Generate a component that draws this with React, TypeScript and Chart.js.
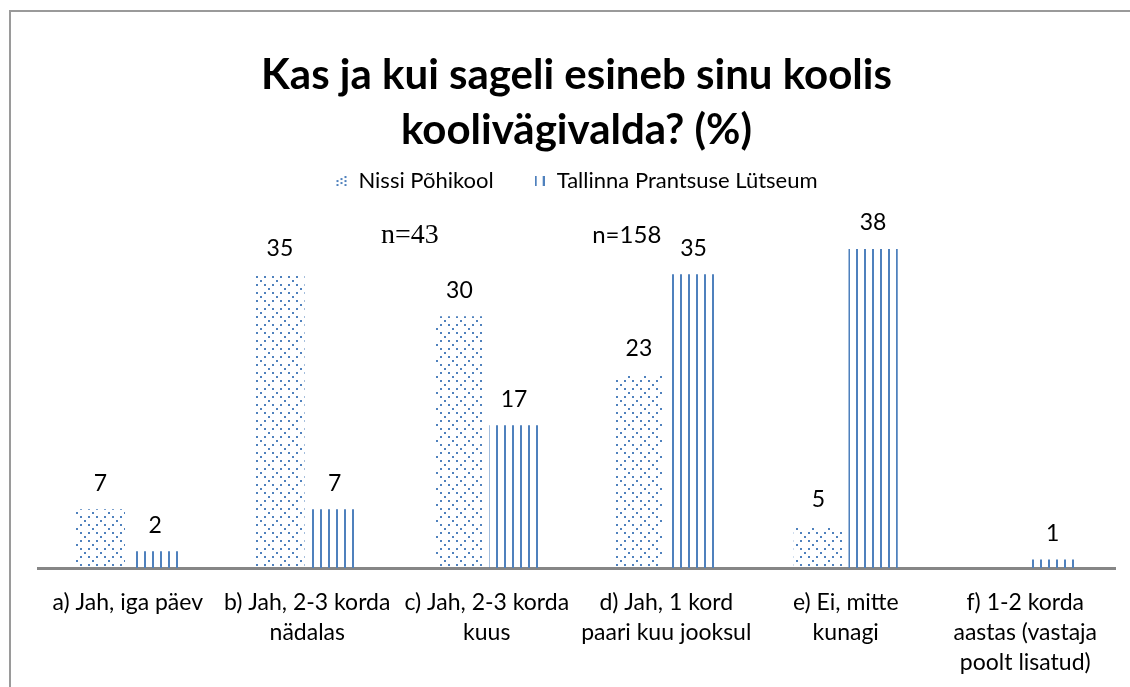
import React, { useEffect, useRef } from "react";
import { Chart, registerables } from "chart.js";

Chart.register(...registerables);

const categories: string[][] = [
  ["a) Jah, iga päev"],
  ["b) Jah, 2-3 korda", "nädalas"],
  ["c) Jah, 2-3 korda", "kuus"],
  ["d) Jah, 1 kord", "paari kuu jooksul"],
  ["e) Ei, mitte", "kunagi"],
  ["f) 1-2 korda", "aastas (vastaja", "poolt lisatud)"],
];
const nissiValues: number[] = [7, 35, 30, 23, 5, 0];
const tallinnValues: number[] = [2, 7, 17, 35, 38, 1];
const seriesNames: string[] = ["Nissi Põhikool", "Tallinna Prantsuse Lütseum"];
const titleLines: string[] = ["Kas ja kui sageli esineb sinu koolis", "koolivägivalda? (%)"];
const notes = [
  { text: "n=43", x: 1.572, y: 39.6, serif: true },
  { text: "n=158", x: 2.78, y: 39.6, serif: false },
];

const BLUE = "#4F81BD";

function dotCanvas(w: number, h: number): HTMLCanvasElement {
  const c = document.createElement("canvas");
  c.width = w;
  c.height = h;
  const ctx = c.getContext("2d");
  if (ctx) {
    ctx.fillStyle = BLUE;
    const dots: [number, number][] = [
      [12, 0], [0, 4], [8, 4], [4, 8], [0, 12], [8, 12],
    ];
    for (let oy = 0; oy < h; oy += 16) {
      for (let ox = 0; ox < w; ox += 16) {
        dots.forEach(([x, y]) => ctx.fillRect(ox + x, oy + y, 2, 2));
      }
    }
  }
  return c;
}

function lineCanvas(w: number, h: number): HTMLCanvasElement {
  const c = document.createElement("canvas");
  c.width = w;
  c.height = h;
  const ctx = c.getContext("2d");
  if (ctx) {
    ctx.fillStyle = BLUE;
    for (let x = 0; x < w; x += 8) ctx.fillRect(x, 0, 2, h);
  }
  return c;
}

function makePattern(c: HTMLCanvasElement): CanvasPattern | string {
  const ctx = c.getContext("2d");
  return (ctx && ctx.createPattern(c, "repeat")) || BLUE;
}

function legendDots(): HTMLCanvasElement {
  const c = document.createElement("canvas");
  c.width = 12;
  c.height = 10;
  const ctx = c.getContext("2d");
  if (ctx) {
    ctx.fillStyle = BLUE;
    const d: [number, number][] = [[9, 0], [5, 2], [9, 4], [1, 4], [5, 6], [1, 8], [9, 8]];
    d.forEach(([x, y]) => ctx.fillRect(x, y, 2, 2));
  }
  return c;
}

function legendLines(): HTMLCanvasElement {
  const c = document.createElement("canvas");
  c.width = 10;
  c.height = 10;
  const ctx = c.getContext("2d");
  if (ctx) {
    ctx.fillStyle = BLUE;
    ctx.fillRect(0, 0, 2, 10);
    ctx.fillRect(8, 0, 2, 10);
  }
  return c;
}

const labelsPlugin = {
  id: "barLabels",
  afterDatasetsDraw(chart: any) {
    const ctx = chart.ctx;
    ctx.save();
    ctx.fillStyle = "#000";
    ctx.font = "23px Lato";
    ctx.textAlign = "center";
    ctx.textBaseline = "middle";
    chart.data.datasets.forEach((ds: any, di: number) => {
      const meta = chart.getDatasetMeta(di);
      meta.data.forEach((el: any, i: number) => {
        const v = ds.data[i];
        if (!v) return;
        ctx.fillText(String(v), el.x, el.y - 26);
      });
    });
    const xs = chart.scales.x;
    const ys = chart.scales.y;
    notes.forEach((n) => {
      ctx.font = n.serif ? "28px 'Liberation Serif'" : "24px Lato";
      ctx.fillText(n.text, xs.getPixelForValue(n.x), ys.getPixelForValue(n.y));
    });
    ctx.restore();
  },
};

export default function App() {
  const ref = useRef<HTMLCanvasElement | null>(null);
  useEffect(() => {
    if (!ref.current) return;
    const icons = [legendDots(), legendLines()];
    const chart = new Chart(ref.current, {
      type: "bar",
      data: {
        labels: categories,
        datasets: [
          {
            label: seriesNames[0],
            data: nissiValues,
            backgroundColor: makePattern(dotCanvas(16, 16)) as any,
            borderWidth: 0,
            categoryPercentage: 0.61,
            barPercentage: 0.9,
          },
          {
            label: seriesNames[1],
            data: tallinnValues,
            backgroundColor: makePattern(lineCanvas(8, 8)) as any,
            borderWidth: 0,
            categoryPercentage: 0.61,
            barPercentage: 0.9,
          },
        ],
      },
      options: {
        animation: false,
        responsive: false,
        maintainAspectRatio: false,
        layout: { padding: { left: 38, right: 15, top: 0, bottom: 0 } },
        plugins: {
          title: {
            display: true,
            text: titleLines,
            color: "#000",
            font: { family: "Lato", size: 42, weight: "bold", lineHeight: 1.31 },
            padding: { top: 48, bottom: -28 },
          },
          legend: {
            display: true,
            position: "top",
            labels: {
              color: "#000",
              font: { family: "Lato", size: 22 },
              usePointStyle: true,
              boxWidth: 12,
              boxHeight: 10,
              padding: 40,
              generateLabels(chart: any) {
                const items = Chart.defaults.plugins.legend.labels.generateLabels(chart);
                items.forEach((it: any, i: number) => {
                  it.pointStyle = icons[i];
                });
                return items;
              },
            },
          },
          tooltip: { enabled: false },
        },
        scales: {
          x: {
            grid: { display: false, drawTicks: false },
            border: { display: true, color: "#868686", width: 3 },
            ticks: {
              color: "#000",
              font: { family: "Lato", size: 23, lineHeight: 1.304 },
              padding: 20,
              maxRotation: 0,
              autoSkip: false,
            },
            afterFit(scale: any) {
              scale.height = 119;
            },
          },
          y: {
            display: false,
            min: 0,
            max: 43.6,
          },
        },
      },
      plugins: [labelsPlugin],
    });
    return () => chart.destroy();
  }, []);
  return (
    <div style={{ position: "fixed", left: 0, top: 0, width: 1130, height: 687, overflow: "hidden", background: "#fff" }}>
      <div
        style={{
          position: "absolute",
          left: 9,
          top: 10,
          width: 1200,
          height: 800,
          border: "2px solid #9a9a9a",
          boxSizing: "border-box",
        }}
      />
      <canvas ref={ref} width={1130} height={687} style={{ position: "absolute", left: 0, top: 0 }} />
    </div>
  );
}
